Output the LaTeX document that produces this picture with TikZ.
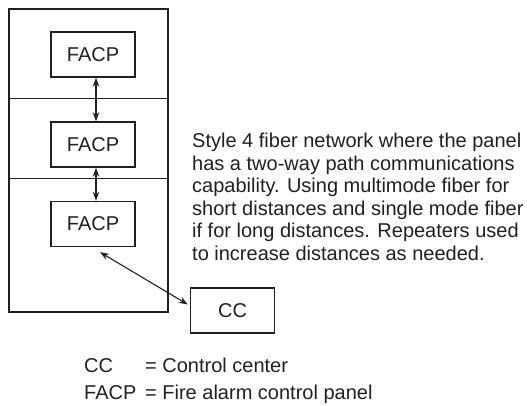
\documentclass[tikz,border=0pt]{standalone}
\usepackage{fontspec}
\setmainfont{Liberation Sans}
\usetikzlibrary{arrows.meta}
\definecolor{ink}{HTML}{231F20}

\begin{document}
\begin{tikzpicture}[x=1pt, y=-1pt, draw=ink, text=ink,
  font=\fontsize{20}{22.5}\selectfont,
  panel/.style={draw, line width=1.4pt, minimum width=84pt, minimum height=45pt, inner sep=0pt},
  link/.style={line width=1.1pt, {Stealth[length=9pt,width=6.5pt]}-{Stealth[length=9pt,width=6.5pt]}}]
  \useasboundingbox (0,0) rectangle (527,406);
  % building -- outer wall + two floor lines
  \draw[line width=1.3pt] (9,9) rectangle (168,312);
  \draw[line width=1pt] (9,99) -- (168,99) (9,179) -- (168,179);
  % one panel per floor, control center outside
  \foreach \n/\y in {1/54.5, 2/144.5, 3/224}
    \node[panel] (facp\n) at (93,\y) {FACP};
  \node[panel] (cc) at (232.5,310.5) {CC};
  \draw[link] ([xshift=3pt]facp1.south) -- ([xshift=3pt]facp2.north);
  \draw[link] ([xshift=3pt]facp2.south) -- ([xshift=3pt]facp3.north);
  \draw[link] ([shift={(7,5)}]facp3.south) -- ([shift={(-2,-6)}]cc.west);
  % note
  \node[anchor=north west, align=left, inner sep=0pt] (note) at (192,133)
    {Style 4 fiber network where the panel\\
     has a two-way path communications\\
     capability. Using multimode fiber for\\
     short distances and single mode fiber\\
     if for long distances. Repeaters used\\
     to increase distances as needed.};
  % legend
  \node[anchor=base west, inner sep=0pt] (keycc) at (84,372) {CC};
  \node[anchor=base west, inner sep=0pt] (defcc) at (145,372) {= Control center};
  \node[anchor=base west, inner sep=0pt] (keyfacp) at (84,399) {FACP};
  \node[anchor=base west, inner sep=0pt] (deffacp) at (145,399) {= Fire alarm control panel};
\end{tikzpicture}
\end{document}
